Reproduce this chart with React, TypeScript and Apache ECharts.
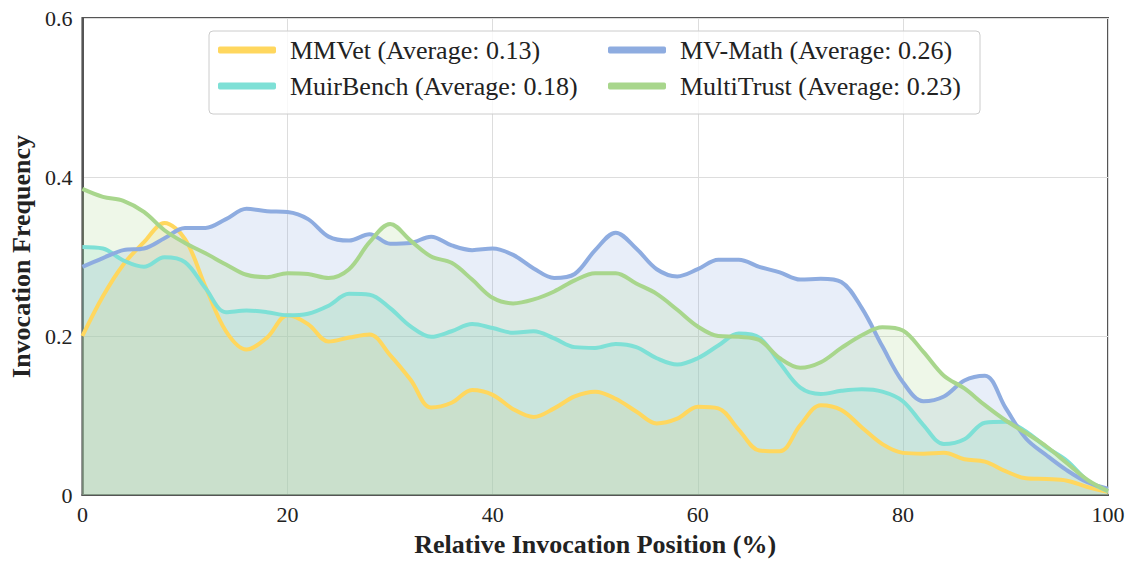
import React, { useEffect, useRef } from "react";
import * as echarts from "echarts";

const positions = [0, 2, 4, 6, 8, 10, 12, 14, 16, 18, 20, 22, 24, 26, 28, 30, 32, 34, 36, 38, 40, 42, 44, 46, 48, 50, 52, 54, 56, 58, 60, 62, 64, 66, 68, 70, 72, 74, 76, 78, 80, 82, 84, 86, 88, 90, 92, 94, 96, 98, 100];

const mmvet = [0.200, 0.250, 0.290, 0.318, 0.342, 0.322, 0.262, 0.206, 0.183, 0.198, 0.226, 0.215, 0.193, 0.198, 0.202, 0.176, 0.145, 0.110, 0.116, 0.132, 0.126, 0.108, 0.098, 0.109, 0.124, 0.130, 0.121, 0.105, 0.090, 0.096, 0.111, 0.109, 0.082, 0.056, 0.055, 0.088, 0.113, 0.107, 0.085, 0.064, 0.053, 0.052, 0.053, 0.045, 0.042, 0.030, 0.021, 0.020, 0.018, 0.010, 0.004];

const muirbench = [0.312, 0.310, 0.295, 0.287, 0.299, 0.293, 0.260, 0.230, 0.232, 0.230, 0.226, 0.228, 0.238, 0.253, 0.252, 0.235, 0.212, 0.199, 0.206, 0.215, 0.210, 0.204, 0.206, 0.197, 0.186, 0.185, 0.190, 0.186, 0.172, 0.164, 0.172, 0.188, 0.203, 0.198, 0.166, 0.135, 0.127, 0.131, 0.133, 0.130, 0.118, 0.088, 0.064, 0.070, 0.091, 0.092, 0.080, 0.060, 0.043, 0.018, 0.005];

const mvmath = [0.287, 0.298, 0.308, 0.310, 0.323, 0.336, 0.336, 0.347, 0.360, 0.357, 0.356, 0.347, 0.325, 0.320, 0.328, 0.316, 0.317, 0.325, 0.314, 0.308, 0.310, 0.302, 0.285, 0.273, 0.278, 0.308, 0.330, 0.310, 0.284, 0.275, 0.284, 0.296, 0.296, 0.287, 0.280, 0.271, 0.272, 0.268, 0.235, 0.187, 0.142, 0.118, 0.124, 0.144, 0.150, 0.110, 0.071, 0.050, 0.031, 0.016, 0.008];

const multitrust = [0.385, 0.375, 0.370, 0.356, 0.333, 0.317, 0.304, 0.290, 0.277, 0.274, 0.279, 0.278, 0.273, 0.284, 0.318, 0.341, 0.320, 0.300, 0.292, 0.271, 0.248, 0.241, 0.246, 0.256, 0.270, 0.279, 0.279, 0.266, 0.253, 0.233, 0.212, 0.200, 0.199, 0.195, 0.172, 0.160, 0.167, 0.185, 0.201, 0.211, 0.207, 0.180, 0.150, 0.134, 0.113, 0.094, 0.078, 0.061, 0.040, 0.019, 0.005];

const seriesNames = [
  "MMVet (Average: 0.13)",
  "MuirBench (Average: 0.18)",
  "MV-Math (Average: 0.26)",
  "MultiTrust (Average: 0.23)",
];
const seriesColors = ["#FFD75E", "#7EE0D6", "#8EACE0", "#A8D68C"];
const seriesValues = [mmvet, muirbench, mvmath, multitrust];

const FONT = "Liberation Serif";

export default function App() {
  const ref = useRef<HTMLDivElement>(null);
  useEffect(() => {
    if (!ref.current) return;
    const chart = echarts.init(ref.current, null, { renderer: "svg" });
    const areas = seriesValues.map((vals, i) => ({
      type: "line",
      name: "area-" + i,
      data: positions.map((x, j) => [x, vals[j]]),
      smooth: 0.35,
      showSymbol: false,
      symbol: "none",
      lineStyle: { width: 0, opacity: 0 },
      itemStyle: { color: seriesColors[i] },
      areaStyle: { color: seriesColors[i], opacity: 0.2 },
      z: 2,
      silent: true,
    }));
    const lines = seriesValues.map((vals, i) => ({
      type: "line",
      name: seriesNames[i],
      data: positions.map((x, j) => [x, vals[j]]),
      smooth: 0.35,
      showSymbol: false,
      symbol: "none",
      lineStyle: { color: seriesColors[i], width: 4 },
      itemStyle: { color: seriesColors[i] },
      z: 3,
    }));
    const legendCommon = {
      orient: "vertical",
      top: 37,
      itemWidth: 58,
      itemHeight: 7,
      itemGap: 10,
      padding: 0,
      icon: "roundRect",
      textStyle: { fontFamily: FONT, fontSize: 26, color: "#222", padding: [0, 0, 0, 9] },
      z: 5,
    };
    chart.setOption({
      animation: false,
      backgroundColor: "#fff",
      grid: {
        left: 78,
        right: 34,
        top: 18,
        bottom: 70,
        show: true,
        borderColor: "#555",
        borderWidth: 2,
        backgroundColor: "transparent",
      },
      legend: [
        { ...legendCommon, left: 218, data: [seriesNames[0], seriesNames[1]] },
        { ...legendCommon, left: 608, data: [seriesNames[2], seriesNames[3]] },
      ],
      graphic: [
        {
          type: "rect",
          z: 4,
          shape: { x: 209, y: 31, width: 771, height: 83, r: 4 },
          style: { fill: "rgba(255,255,255,0.8)", stroke: "#cccccc", lineWidth: 1 },
        },
      ],
      xAxis: {
        type: "value",
        min: 0,
        max: 100,
        interval: 20,
        name: "Relative Invocation Position (%)",
        nameLocation: "middle",
        nameGap: 36,
        nameTextStyle: { fontFamily: FONT, fontSize: 26, fontWeight: "bold", color: "#222" },
        axisLine: { show: true, lineStyle: { color: "#555", width: 2 } },
        axisTick: { show: false },
        axisLabel: { fontFamily: FONT, fontSize: 22, color: "#222", margin: 8 },
        splitLine: { show: true, lineStyle: { color: "#dddddd", width: 1 } },
      },
      yAxis: {
        type: "value",
        min: 0,
        max: 0.6,
        interval: 0.2,
        name: "Invocation Frequency",
        nameLocation: "middle",
        nameGap: 48,
        nameTextStyle: { fontFamily: FONT, fontSize: 26, fontWeight: "bold", color: "#222" },
        axisLine: { show: true, lineStyle: { color: "#555", width: 2 } },
        axisTick: { show: false },
        axisLabel: {
          fontFamily: FONT,
          fontSize: 22,
          color: "#222",
          margin: 10,
          formatter: (v: number) => (v === 0 ? "0" : v.toFixed(1)),
        },
        splitLine: { show: true, lineStyle: { color: "#dddddd", width: 1 } },
      },
      series: [...areas, ...lines],
    });
    return () => chart.dispose();
  }, []);
  return (
    <div
      ref={ref}
      style={{ position: "fixed", left: 0, top: 0, width: 1142, height: 565 }}
    />
  );
}
